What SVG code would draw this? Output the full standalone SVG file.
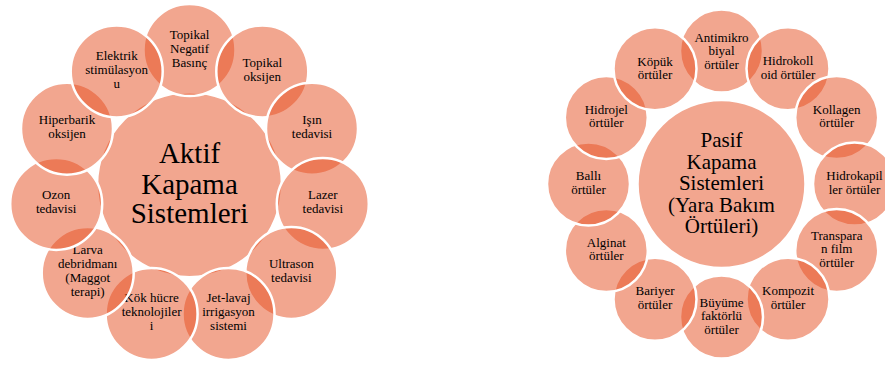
<svg xmlns="http://www.w3.org/2000/svg" width="885" height="365" viewBox="0 0 885 365">
<style>
.c{fill:#E64D20;fill-opacity:0.5;stroke:#FFFFFF;stroke-width:2.5}
text{font-family:"Liberation Serif","Times New Roman",serif;fill:#000;text-anchor:middle}
.s{font-size:13px}
.bl{font-size:29px}
.br{font-size:21px}
</style>
<rect width="885" height="365" fill="#FFFFFF"/>
<g id="connectors"/>
<g id="left">
<g id="aktif"><circle class="c" cx="189.5" cy="184.7" r="92.5"/>
<text class="bl" x="189.5" y="163">Aktif</text><text class="bl" x="189.5" y="193.5">Kapama</text><text class="bl" x="189.5" y="223">Sistemleri</text></g>
<g id="l0"><circle class="c" cx="189.5" cy="50" r="46"/>
<text class="s" x="189.5" y="38.5">Topikal</text><text class="s" x="189.5" y="52.5">Negatif</text><text class="s" x="189.5" y="66.5">Basınç</text></g>
<g id="l1"><circle class="c" cx="262.3" cy="71.4" r="46"/>
<text class="s" x="262.3" y="66.9">Topikal</text><text class="s" x="262.3" y="80.9">oksijen</text></g>
<g id="l2"><circle class="c" cx="312" cy="128.7" r="46"/>
<text class="s" x="312" y="124.2">Işın</text><text class="s" x="312" y="138.2">tedavisi</text></g>
<g id="l3"><circle class="c" cx="322.8" cy="203.9" r="46"/>
<text class="s" x="322.8" y="199.4">Lazer</text><text class="s" x="322.8" y="213.4">tedavisi</text></g>
<g id="l4"><circle class="c" cx="291.3" cy="272.9" r="46"/>
<text class="s" x="291.3" y="268.4">Ultrason</text><text class="s" x="291.3" y="282.4">tedavisi</text></g>
<g id="l5"><circle class="c" cx="228.5" cy="313.9" r="46"/>
<text class="s" x="228.5" y="302.4">Jet-lavaj</text><text class="s" x="228.5" y="316.4">irrigasyon</text><text class="s" x="228.5" y="330.4">sistemi</text></g>
<g id="l6"><circle class="c" cx="151.6" cy="313.9" r="46"/>
<text class="s" x="151.6" y="302.4">Kök hücre</text><text class="s" x="151.6" y="316.4">teknolojiler</text><text class="s" x="151.6" y="330.4">i</text></g>
<g id="l7"><circle class="c" cx="87.7" cy="272.9" r="46"/>
<text class="s" x="87.7" y="254.4">Larva</text><text class="s" x="87.7" y="268.4">debridmanı</text><text class="s" x="87.7" y="282.4">(Maggot</text><text class="s" x="87.7" y="296.4">terapi)</text></g>
<g id="l8"><circle class="c" cx="56.2" cy="203.9" r="46"/>
<text class="s" x="56.2" y="199.4">Ozon</text><text class="s" x="56.2" y="213.4">tedavisi</text></g>
<g id="l9"><circle class="c" cx="67" cy="128.7" r="46"/>
<text class="s" x="67" y="124.2">Hiperbarik</text><text class="s" x="67" y="138.2">oksijen</text></g>
<g id="l10"><circle class="c" cx="116.7" cy="71.4" r="46"/>
<text class="s" x="116.7" y="59.9">Elektrik</text><text class="s" x="116.7" y="73.9">stimülasyon</text><text class="s" x="116.7" y="87.9">u</text></g>
</g>
<g id="right">
<g id="pasif"><circle class="c" cx="721.5" cy="184" r="84"/>
<text class="br" x="721.5" y="147">Pasif</text><text class="br" x="721.5" y="168.5">Kapama</text><text class="br" x="721.5" y="190">Sistemleri</text><text class="br" x="721.5" y="211.5">(Yara Bakım</text><text class="br" x="721.5" y="233">Örtüleri)</text></g>
<g id="r0"><circle class="c" cx="721.5" cy="51" r="41.5"/>
<text class="s" x="721.5" y="41.5">Antimikro</text><text class="s" x="721.5" y="55">biyal</text><text class="s" x="721.5" y="68.5">örtüler</text></g>
<g id="r1"><circle class="c" cx="788" cy="68.8" r="41.5"/>
<text class="s" x="788" y="65">Hidrokoll</text><text class="s" x="788" y="78.5">oid örtüler</text></g>
<g id="r2"><circle class="c" cx="836.7" cy="117.5" r="41.5"/>
<text class="s" x="836.7" y="113.7">Kollagen</text><text class="s" x="836.7" y="127.2">örtüler</text></g>
<g id="r3"><circle class="c" cx="854.5" cy="184" r="41.5"/>
<text class="s" x="854.5" y="180.2">Hidrokapil</text><text class="s" x="854.5" y="193.7">ler örtüler</text></g>
<g id="r4"><circle class="c" cx="836.7" cy="250.5" r="41.5"/>
<text class="s" x="836.7" y="239.5">Transpara</text><text class="s" x="836.7" y="253">n film</text><text class="s" x="836.7" y="266.5">örtüler</text></g>
<g id="r5"><circle class="c" cx="788" cy="299.2" r="41.5"/>
<text class="s" x="788" y="295">Kompozit</text><text class="s" x="788" y="308.5">örtüler</text></g>
<g id="r6"><circle class="c" cx="721.5" cy="317" r="41.5"/>
<text class="s" x="721.5" y="306.5">Büyüme</text><text class="s" x="721.5" y="320">faktörlü</text><text class="s" x="721.5" y="333.5">örtüler</text></g>
<g id="r7"><circle class="c" cx="655" cy="299.2" r="41.5"/>
<text class="s" x="655" y="295">Bariyer</text><text class="s" x="655" y="308.5">örtüler</text></g>
<g id="r8"><circle class="c" cx="606.3" cy="250.5" r="41.5"/>
<text class="s" x="606.3" y="246.5">Alginat</text><text class="s" x="606.3" y="260">örtüler</text></g>
<g id="r9"><circle class="c" cx="588.5" cy="184" r="41.5"/>
<text class="s" x="588.5" y="180">Ballı</text><text class="s" x="588.5" y="193.5">örtüler</text></g>
<g id="r10"><circle class="c" cx="606.3" cy="117.5" r="41.5"/>
<text class="s" x="606.3" y="113.5">Hidrojel</text><text class="s" x="606.3" y="127">örtüler</text></g>
<g id="r11"><circle class="c" cx="655" cy="68.8" r="41.5"/>
<text class="s" x="655" y="65.5">Köpük</text><text class="s" x="655" y="79">örtüler</text></g>
</g>
</svg>
